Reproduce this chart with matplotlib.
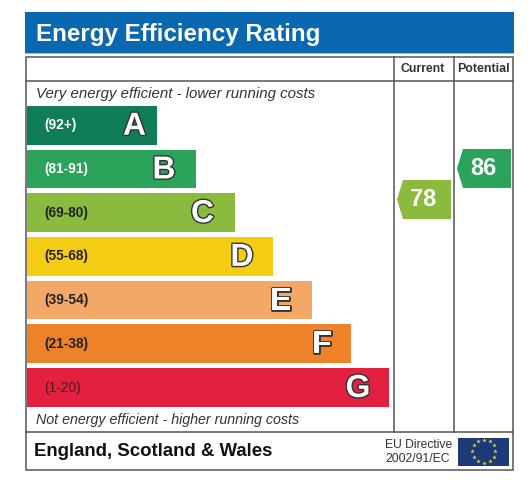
import numpy as np
import matplotlib
matplotlib.use("Agg")
import matplotlib.pyplot as plt
import matplotlib.patheffects as pe
from matplotlib.patches import Polygon, Rectangle

plt.rcParams["font.family"] = ["Liberation Sans", "DejaVu Sans"]

title = "Energy Efficiency Rating"
top_note = "Very energy efficient - lower running costs"
bottom_note = "Not energy efficient - higher running costs"
region = "England, Scotland & Wales"
directive = ["EU Directive", "2002/91/EC"]

letters = ["A", "B", "C", "D", "E", "F", "G"]
ranges = ["(92+)", "(81-91)", "(69-80)", "(55-68)", "(39-54)", "(21-38)", "(1-20)"]
bar_lengths = [130, 169.5, 208, 246.5, 285.5, 324.5, 362.5]
bar_colors = ["#0f7d55", "#2ba35a", "#8abb3f", "#f6cd15", "#f3a868", "#ee8228", "#e3203f"]
range_colors = ["white", "white", "#222222", "#222222", "#222222", "#222222", "#4a1a20"]
range_weights = ["bold", "bold", "bold", "bold", "bold", "bold", "normal"]
letter_gaps = [22, 32, 32, 31, 31, 29, 31]

current = 78
potential = 86
current_color = "#8abb3f"
potential_color = "#2ba35a"

fig = plt.figure(figsize=(5.32, 4.83), dpi=100)
ax = fig.add_axes([0, 0, 1, 1])
ax.set_xlim(0, 532)
ax.set_ylim(483, 0)
ax.axis("off")

# header band
ax.add_patch(Rectangle((25, 12), 489, 41, color="#0a68b1", lw=0))
ax.add_patch(Rectangle((25, 53), 489, 1.3, color="#8fc0e0", lw=0))
ax.text(36, 34.5, title, color="white", fontsize=17.4, fontweight="bold", va="center")

# frame and column lines
line = "#555555"
ax.add_patch(Rectangle((26, 56.5), 487, 413.5, fill=False, ec=line, lw=1.1))
ax.plot([26, 513], [80.5, 80.5], color=line, lw=1.1)
ax.plot([26, 513], [431.5, 431.5], color=line, lw=1.1)
ax.plot([394, 394], [56.5, 431.5], color=line, lw=1.1)
ax.plot([454, 454], [56.5, 431.5], color=line, lw=1.1)

ax.text(423, 69, "Current", color="#333333", fontsize=8.8, fontweight="bold", ha="center", va="center")
ax.text(483.5, 69, "Potential", color="#333333", fontsize=8.9, fontweight="bold", ha="center", va="center")

ax.text(36, 94, top_note, color="#333333", fontsize=10.8, style="italic", va="center")
ax.text(36, 420, bottom_note, color="#333333", fontsize=10.3, style="italic", va="center")

# rating bars
pitch = 43.7
row_y = 125.3 + pitch * np.arange(len(letters))
ax.barh(row_y, bar_lengths, height=38.7, left=26.5, color=bar_colors, lw=0)

for i, letter in enumerate(letters):
    y = row_y[i]
    ax.text(44, y, ranges[i], color=range_colors[i], fontsize=9.9, fontweight=range_weights[i], va="center")
    ax.text(26.5 + bar_lengths[i] - letter_gaps[i], y + 1.5, letter, color="white", fontsize=23,
            fontweight="bold", ha="center", va="center",
            path_effects=[pe.withStroke(linewidth=2.0, foreground="#333333")])


def score_arrow(score, right, color):
    # arrows sit on a score scale, 86 is level with band B
    y = 168.5 + (86 - score) * 3.875
    pts = [(right, y - 19.5), (right - 48, y - 19.5), (right - 54, y),
           (right - 48, y + 19.5), (right, y + 19.5)]
    ax.add_patch(Polygon(pts, closed=True, color=color, lw=0))
    ax.text(right - 28, y, str(score), color="white", fontsize=17, fontweight="bold",
            ha="center", va="center")


score_arrow(current, 451, current_color)
score_arrow(potential, 511, potential_color)

# footer
ax.text(33.5, 451.5, region, color="#111111", fontsize=13.4, fontweight="bold", va="center")
ax.text(385, 444.5, directive[0], color="#333333", fontsize=8.7, va="center")
ax.text(385, 458.5, directive[1], color="#333333", fontsize=8.7, va="center")

# EU flag
ax.add_patch(Rectangle((458, 438), 51, 27.5, color="#1d3a78", lw=0))
angles = np.arange(12) * np.pi / 6
ax.scatter(483.8 + 11.5 * np.cos(angles), 451.2 + 11.5 * np.sin(angles),
           marker="*", s=11, color="#e8d94a", lw=0)

fig.savefig("out.png", dpi=100)
plt.close(fig)
